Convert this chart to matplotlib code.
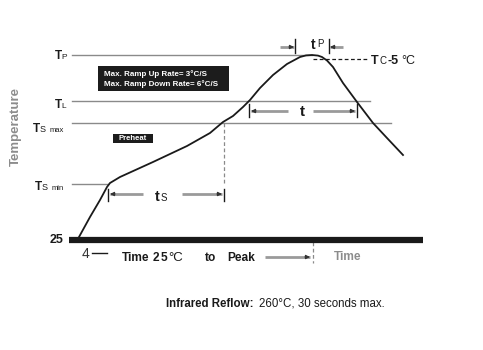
import matplotlib
matplotlib.use("Agg")
import matplotlib.pyplot as plt
from matplotlib.patches import Rectangle

plt.rcParams['font.family'] = ['Liberation Sans', 'DejaVu Sans']

# ---- data (schematic reflow profile; y grows downward) ----
profile_time = [79, 90, 100, 107, 110, 120, 153, 187, 210, 223, 233, 243, 250, 260,
                273, 287, 300, 306, 312, 318, 322, 327, 333, 343, 357, 373, 387, 403]
profile_temp = [237, 217, 200, 187, 183, 177, 162, 146, 133, 122, 116, 107, 100, 88,
                75, 64, 57, 55.4, 55, 55.6, 57, 60.5, 67, 83, 102, 123, 138, 155]

level_names = ["TP", "TL", "TS max", "TS min"]
level_temp = [55, 101, 123, 184]
level_end = [312, 370, 391, 108]
base_temp = 240
base_span = [69, 423]

ts_span = [108, 224]
t_span = [249, 357]
tp_span = [295, 329]
peak_time = 313
tc5_temp = 59

fig = plt.figure(figsize=(4.83, 3.5), dpi=100)
ax = fig.add_axes([0, 0, 1, 1])
ax.set_xlim(0, 483)
ax.set_ylim(350, 0)
ax.axis('off')

grey = '#8a8a8a'
dark = '#1a1a1a'

# reference level lines
for y, x1 in zip(level_temp, level_end):
    ax.plot([72, x1], [y, y], color=grey, lw=1.0, zorder=1)
# baseline
ax.plot(base_span, [base_temp, base_temp], color=dark, lw=4.5, solid_capstyle='butt', zorder=3)

# profile curve
ax.plot(profile_time, profile_temp, color=dark, lw=1.3, zorder=4, solid_joinstyle='round')

# dashed lines
ax.plot([ts_span[1], ts_span[1]], [level_temp[2], 184], color=grey, lw=0.9, ls=(0, (3, 2)))
ax.plot([peak_time, 368], [tc5_temp, tc5_temp], color=dark, lw=0.9, ls=(0, (3, 2)))
ax.plot([peak_time, peak_time], [242, 263], color=grey, lw=0.9, ls=(0, (3, 2)))

def arrow(x0, x1, y):
    ax.plot([x0, x1], [y, y], color='#9a9a9a', lw=2.0, solid_capstyle='butt')
    d = 5 if x1 > x0 else -5
    ax.annotate('', xy=(x1, y), xytext=(x1 - d, y),
                arrowprops=dict(arrowstyle='-|>', color='#333333', lw=0.8,
                                mutation_scale=6, shrinkA=0, shrinkB=0))

def tick(x, y0, y1):
    ax.plot([x, x], [y0, y1], color=dark, lw=1.0)

# ts dimension
tick(ts_span[0], 189, 201); tick(ts_span[1], 189, 201)
arrow(143, ts_span[0] + 2, 194)
arrow(182, ts_span[1] - 2, 194)
ax.text(155, 201, 't', fontsize=10.5, fontweight='bold', color=dark)
ax.text(161, 201, 'S', fontsize=7, color=dark)

# t dimension
tick(t_span[0], 104, 117); tick(t_span[1], 104, 117)
arrow(288, t_span[0] + 2, 111)
arrow(313, t_span[1] - 2, 111)
ax.text(302.5, 116, 't', fontsize=11, fontweight='bold', color=dark, ha='center')

# tp dimension
tick(tp_span[0], 39, 53); tick(tp_span[1], 39, 53)
arrow(280, tp_span[0] - 1, 47)
arrow(343, tp_span[1] + 1, 47)
ax.text(311, 49, 't', fontsize=10, fontweight='bold', color=dark)
ax.text(317, 47, 'P', fontsize=7, color=dark)

# Tc -5°C
ax.text(371, 64, 'T', fontsize=9, fontweight='bold', color=dark)
ax.text(379, 64, 'C', fontsize=7, color=dark)
ax.text(388, 64, '-5', fontsize=9, fontweight='bold', color=dark)
ax.text(401, 64, '°C', fontsize=9, color=dark)

# left level labels
ax.text(55, 59, 'T', fontsize=8.5, fontweight='bold', color=dark)
ax.text(61.5, 59, 'P', fontsize=6, color=dark)
ax.text(55, 108.5, 'T', fontsize=8.5, fontweight='bold', color=dark)
ax.text(61.5, 108.5, 'L', fontsize=6, color=dark)
ax.text(33, 132, 'T', fontsize=8.5, fontweight='bold', color=dark)
ax.text(40, 132, 'S', fontsize=6.5, color=dark)
ax.text(50, 132, 'max', fontsize=5.5, color=dark)
ax.text(35, 189.5, 'T', fontsize=8.5, fontweight='bold', color=dark)
ax.text(42, 189.5, 'S', fontsize=6.5, color=dark)
ax.text(52, 189.5, 'min', fontsize=5.5, color=dark)
ax.text(49.5, 243, '25', fontsize=9, fontweight='bold', color=dark)

ax.text(16, 127, 'Temperature', rotation=90, fontsize=9.5, fontweight='bold',
        color='#8c8c8c', ha='center', va='center')

# info boxes
ax.add_patch(Rectangle((98, 66), 131, 25, facecolor='#1c1c1c', edgecolor='none'))
ax.text(104, 74.5, 'Max. Ramp Up Rate= 3°C/S', fontsize=5.8, fontweight='bold',
        color='white', va='center')
ax.text(104, 84, 'Max. Ramp Down Rate= 6°C/S', fontsize=5.8, fontweight='bold',
        color='white', va='center')
ax.add_patch(Rectangle((113, 133.5), 40, 9, facecolor='#1c1c1c', edgecolor='none'))
ax.text(133, 138, 'Preheat', fontsize=5.5, fontweight='bold', color='white',
        ha='center', va='center')

# bottom axis labels
ax.text(81.5, 258.5, '4', fontsize=10, color='#333333')
ax.plot([92, 107], [253, 253], color=dark, lw=1.0)
tb = dict(fontweight='bold', color=dark, fontsize=8.6)
ax.text(122, 261, 'Time', **tb)
ax.text(152.5, 261, '2', **tb)
ax.text(160.5, 261, '5', **tb)
ax.text(168, 261, '°C', fontsize=9.5, color=dark)
ax.text(205, 261, 'to', **tb)
ax.text(227, 261, 'Peak', **tb)
arrow(265, 310, 257)
ax.text(334, 260, 'Time', fontsize=8.6, fontweight='bold', color='#8c8c8c')

ax.text(166, 307, 'Infrared Reflow:', fontsize=8.3, fontweight='bold', color=dark)
ax.text(259, 307, '260°C, 30 seconds max.', fontsize=8.3, color=dark)

fig.savefig('out.png', dpi=100)
